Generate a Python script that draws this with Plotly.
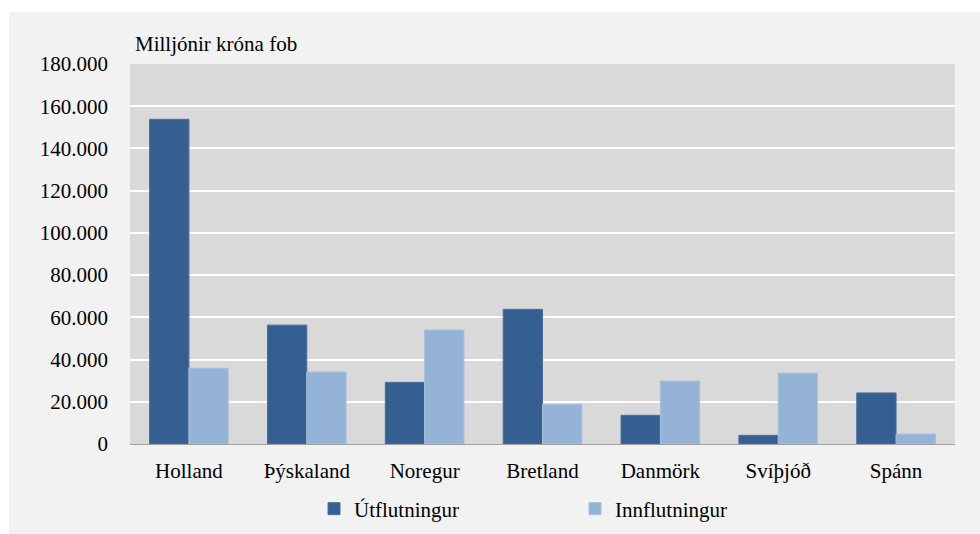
import plotly.graph_objects as go

categories = ["Holland", "Þýskaland", "Noregur", "Bretland", "Danmörk", "Svíþjóð", "Spánn"]
utflutningur = [153800, 56300, 29200, 63800, 13600, 4100, 24200]
innflutningur = [35900, 34100, 54000, 18800, 29800, 33600, 4700]
y_ticks = [0, 20000, 40000, 60000, 80000, 100000, 120000, 140000, 160000, 180000]

FONT = "Liberation Serif"

W, H = 980, 534
L, R, T, B = 130, 25, 64, 90

def cx(px):
    return px / W

def cy(py):
    return (H - py) / H

fig = go.Figure()
fig.add_trace(go.Bar(
    x=categories, y=utflutningur, name="Útflutningur",
    marker=dict(color="#365f91", line=dict(color="#4a6d9c", width=1)),
    legend="legend", showlegend=True,
))
fig.add_trace(go.Bar(
    x=categories, y=innflutningur, name="Innflutningur",
    marker=dict(color="#95b3d7", line=dict(color="#a8c0dd", width=1)),
    legend="legend2", showlegend=True,
))

legend_common = dict(
    orientation="h", yanchor="middle", xanchor="left",
    xref="container", yref="container",
    font=dict(family=FONT, size=21, color="#000"),
    bgcolor="rgba(0,0,0,0)", itemwidth=30, visible=True,
)

fig.update_layout(
    width=W, height=H,
    margin=dict(l=L, r=R, t=T, b=B, pad=0, autoexpand=False),
    paper_bgcolor="#f2f2f2",
    plot_bgcolor="#d9d9d9",
    separators=",.",
    showlegend=True,
    barmode="group", bargap=0.333, bargroupgap=0,
    font=dict(family=FONT, size=21, color="#000"),
    legend=dict(x=cx(314), y=cy(509), **legend_common),
    legend2=dict(x=cx(575), y=cy(509), **legend_common),
    xaxis=dict(
        showline=True, linecolor="#a0a0a0", linewidth=1,
        ticks="", showgrid=False, ticklabelstandoff=8,
        tickfont=dict(family=FONT, size=21, color="#000"),
    ),
    yaxis=dict(
        range=[0, 180000], tickvals=y_ticks, tickformat=",d",
        showgrid=True, gridcolor="#ffffff", gridwidth=2,
        zeroline=False, showline=False, ticks="", ticklabelstandoff=21,
        tickfont=dict(family=FONT, size=21, color="#000"),
    ),
    annotations=[dict(
        text="Milljónir króna fob", xref="paper", yref="paper",
        x=(133 - L) / (W - L - R), y=(H - B - 44) / (H - T - B),
        xanchor="left", yanchor="middle",
        showarrow=False, font=dict(family=FONT, size=21, color="#000"),
    )],
    shapes=[
        dict(type="rect", xref="paper", yref="paper",
             x0=-L / (W - L - R), x1=(W - L) / (W - L - R),
             y0=(H - B - 12) / (H - T - B), y1=(H - B) / (H - T - B),
             fillcolor="#ffffff", line=dict(width=0), layer="below"),
        dict(type="rect", xref="paper", yref="paper",
             x0=-L / (W - L - R), x1=(9 - L) / (W - L - R),
             y0=-B / (H - T - B), y1=(H - B) / (H - T - B),
             fillcolor="#ffffff", line=dict(width=0), layer="below"),
    ],
)

fig.write_html(
    "out.html",
    config={"displayModeBar": False},
    post_script="document.body.style.margin='0';document.body.style.overflow='hidden';",
)
